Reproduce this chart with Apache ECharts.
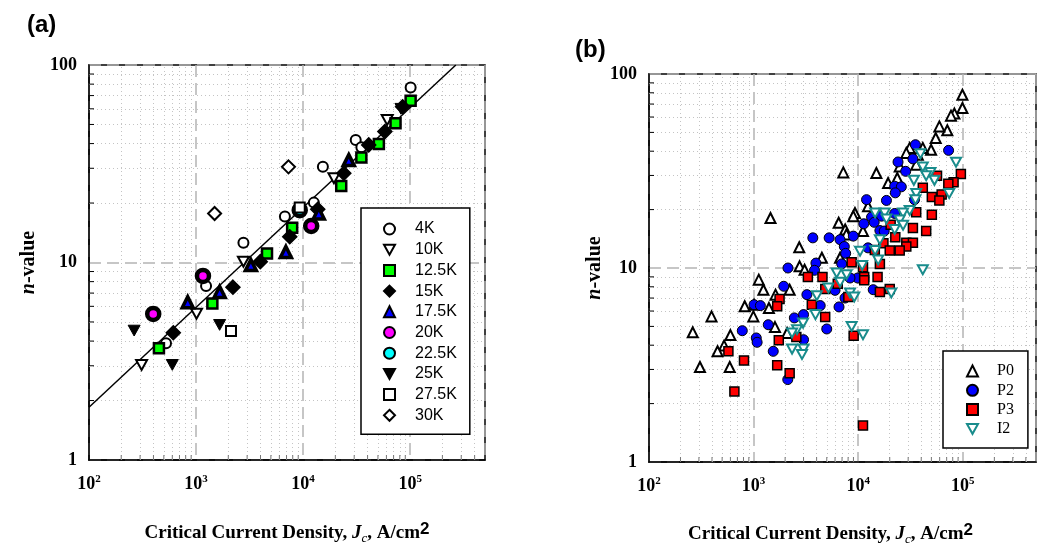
<!DOCTYPE html>
<html>
<head>
<meta charset="utf-8">
<script src="https://cdn.jsdelivr.net/npm/echarts/dist/echarts.min.js"></script>
<style>
html, body { margin: 0; padding: 0; background: #fff; }
#main { width: 1039px; height: 556px; }
</style>
</head>
<body>
<div id="main"></div>
<script>
// panel (a): n-value vs Jc, grouped by temperature
var k4    = [[1.01e5,77],[3.1e4,41.7],[3.5e4,38.3],[1.53e4,30.5],[1.26e4,20.1],[6.76e3,17.1],[2.77e3,12.6],[1.24e3,7.6],[524,3.9]];
var k10   = [[6.1e4,52.7],[1.94e4,26.7],[2.77e3,10.1],[1.01e3,5.5],[310,3.03]];
var k12_5 = [[1.01e5,66],[7.3e4,50.7],[5.1e4,39.8],[3.5e4,34],[2.27e4,24.4],[7.9e3,15],[4.6e3,11.1],[1.42e3,6.2],[450,3.68]];
var k15   = [[8.5e4,61.5],[5.8e4,46],[4.1e4,39.4],[2.4e4,28.3],[1.37e4,18.6],[7.5e3,13.5],[3.98e3,10.1],[2.21e3,7.5],[613,4.41]];
var k17_5 = [[2.67e4,33],[1.4e4,17.7],[6.9e3,11.3],[3.25e3,9.7],[1.66e3,7.1],[836,6.29]];
var k20   = [[1.19e4,15.3],[1.16e3,8.55],[398,5.49]];
var k22_5 = [[9.3e3,18.4]];
var k25   = [[8.2e4,60],[1.66e3,4.83],[600,3.03],[264,4.52]];
var k27_5 = [[9.3e3,19],[2.12e3,4.5]];
var k30   = [[7.3e3,30.5],[1.49e3,17.7]];
var fitLine = [[100,1.85],[2.67e5,100]];

// panel (b): by sample
var p0 = [[9.9e4,78.2],[9.9e4,66.8],[8.3e4,62.5],[7.7e4,61],[7.1e4,51.3],[5.96e4,53.7],[5.5e4,46.8],[4.97e4,40.7],[4.14e4,41.6],[3.71e4,38.4],[3.1e4,41.6],[2.88e4,39.2],[3.58e4,34.1],[2.49e4,33.4],[2.36e4,29.1],[1.93e4,27.4],[1.49e4,30.9],[7.2e3,31.1],[1.24e4,20.8],[9.3e3,19.2],[8.97e3,18.5],[1.11e4,15.5],[6.5e3,17.1],[7.5e3,15.8],[7.7e3,14.9],[1.45e3,18.1],[2.73e3,12.8],[6.7e3,11.3],[4.49e3,11.3],[2.75e3,10.2],[3.07e3,9.8],[1.12e3,8.71],[1.24e3,7.73],[2.21e3,7.73],[1.62e3,7.29],[822,6.35],[1.01e3,6.47],[1.4e3,6.22],[396,5.63],[994,5.63],[1.6e3,4.96],[262,4.66],[600,4.51],[2.09e3,4.62],[522,3.98],[452,3.72],[307,3.09],[591,3.09]];
var p2 = [[7.3e4,40.4],[3.52e4,43.2],[2.4e4,35.2],[3.33e4,36.5],[2.84e4,31.5],[2.23e4,26.4],[2.58e4,26.2],[2.26e4,24.4],[1.86e4,22.3],[3.45e4,22.5],[1.2e4,22.5],[2.23e4,19.1],[1.67e4,18.5],[1.34e4,18.3],[1.42e4,17.2],[1.13e4,16.9],[1.61e4,15.6],[1.77e4,15.5],[8.97e3,14.6],[6.7e3,14],[5.27e3,14.3],[3.68e3,14.3],[7.36e3,12.9],[1.24e4,12.7],[7.58e3,11.9],[6.95e3,10.5],[3.94e3,10.6],[3.82e3,9.73],[2.13e3,10],[9.86e3,8.88],[8.34e3,8.88],[1.94e3,8.05],[1.39e4,7.73],[6.0e3,7.67],[3.23e3,7.29],[7.47e3,7.0],[1.01e3,6.47],[1.16e3,6.4],[4.33e3,6.4],[6.55e3,6.3],[2.45e3,5.53],[3.0e3,5.75],[1.38e3,5.1],[779,4.75],[5.0e3,4.85],[1.06e3,4.36],[1.08e3,4.14],[3.0e3,4.27],[1.54e3,3.72],[2.12e3,2.66]];
var p3 = [[9.57e4,30.5],[8.15e4,27.7],[7.26e4,27.2],[5.66e4,29.9],[4.14e4,25.9],[5.05e4,23.2],[6.27e4,23.9],[5.96e4,22.3],[5.05e4,18.8],[3.58e4,19.4],[3.33e4,16.1],[4.46e4,15.5],[2.04e4,16.7],[1.74e4,13.4],[2.26e4,14.4],[2.88e4,13.5],[3.33e4,13.5],[2.88e4,12.9],[2.0e4,12.3],[2.49e4,12.3],[1.44e4,12.4],[1.61e4,10.5],[1.11e4,10.1],[8.65e3,10.7],[1.14e4,8.99],[1.14e4,8.64],[1.53e4,8.99],[3.3e3,8.99],[4.55e3,8.99],[4.84e3,7.79],[6.37e3,8.3],[2.0e4,7.79],[1.61e4,7.52],[8.04e3,7.09],[3.6e3,6.47],[1.77e3,6.92],[1.68e3,6.35],[4.83e3,5.59],[1.74e3,4.24],[2.56e3,4.41],[9.04e3,4.48],[574,3.72],[809,3.34],[1.68e3,3.15],[2.21e3,2.87],[655,2.31],[1.11e4,1.54]];
var i2 = [[8.6e4,35.1],[3.93e4,38.8],[4.14e4,33.2],[4.9e4,31.1],[4.46e4,29.9],[5.35e4,28.3],[3.4e4,28.3],[3.58e4,24.2],[7.4e4,24.2],[3.52e4,22.5],[3.1e4,19.8],[2.68e4,19.2],[2.49e4,17.7],[2.68e4,16.6],[2.23e4,15.8],[1.79e4,19.2],[1.86e4,17.9],[1.45e4,19.2],[1.61e4,14],[1.45e4,12.3],[1.55e4,11.0],[1.04e4,12.2],[1.09e4,10.3],[6.22e3,9.43],[7.74e3,9.24],[6.7e3,8.44],[5.19e3,7.89],[8.34e3,7.43],[9.16e3,7.09],[4.02e3,7.2],[2.07e4,7.43],[4.14e4,9.8],[3.9e3,5.75],[2.97e3,5.2],[2.6e3,4.81],[2.33e3,4.62],[8.65e3,5.0],[1.11e4,4.53],[2.33e3,3.82],[3.0e3,3.82],[2.9e3,3.58]];

var xMin = 100, xMax = 5e5, yMin = 1, yMax = 100;

var chart = echarts.init(document.getElementById('main'));

var downTri = 'path://M0,0L10,0L5,9Z';

// minor positions (2..9 in each decade) for dotted grid and small ticks
var xMinor = [], yMinor = [];
for (var d = 100; d < xMax; d *= 10) {
    for (var m = 2; m <= 9; m++) {
        if (d * m < xMax) xMinor.push(d * m);
    }
}
for (var e = 1; e < yMax; e *= 10) {
    for (var m2 = 2; m2 <= 9; m2++) yMinor.push(e * m2);
}
var minorLines = xMinor.map(function (v) { return {xAxis: v}; })
    .concat(yMinor.map(function (v) { return {yAxis: v}; }));
// [x, y, 0 = tick on bottom axis / 1 = tick on left axis]
var minorTicks = xMinor.map(function (v) { return [v, yMin, 0]; })
    .concat(yMinor.map(function (v) { return [xMin, v, 1]; }));

var serif = 'Liberation Serif';

function xLabel(v) {
    var p = Math.log10(v);
    if (Math.abs(p - Math.round(p)) > 1e-6) return '';
    return '{b|10}{s|' + Math.round(p) + '}';
}
function yLabel(v) {
    var p = Math.log10(v);
    if (Math.abs(p - Math.round(p)) > 1e-6) return '';
    return String(Math.round(v));
}

function xAxisCfg(idx, gap, pad) {
    return {
        type: 'log', logBase: 10, min: xMin, max: xMax, gridIndex: idx,
        axisLine: {show: true, lineStyle: {color: '#000', width: 1.5}},
        axisTick: {show: false},
        axisLabel: {
            formatter: xLabel, margin: 14,
            rich: {
                b: {fontFamily: serif, fontWeight: 'bold', fontSize: 18, color: '#000', lineHeight: 20},
                s: {fontFamily: serif, fontWeight: 'bold', fontSize: 11, color: '#000', lineHeight: 11, verticalAlign: 'top'}
            }
        },
        splitLine: {show: true, lineStyle: {color: '#b4b4b4', type: [12, 6], width: 1.5}},
        name: '{t|Critical Current Density, }{i|J}{c|c}{t|, A/cm}{p|2}',
        nameLocation: 'middle', nameGap: gap,
        nameTextStyle: {
            padding: pad,
            rich: {
                t: {fontFamily: serif, fontWeight: 'bold', fontSize: 19, color: '#000', lineHeight: 24},
                i: {fontFamily: serif, fontWeight: 'bold', fontStyle: 'italic', fontSize: 19, color: '#000', lineHeight: 24},
                c: {fontFamily: serif, fontStyle: 'italic', fontSize: 13, color: '#000', lineHeight: 14, verticalAlign: 'bottom'},
                p: {fontFamily: 'Liberation Sans', fontWeight: 'bold', fontSize: 17, color: '#000', lineHeight: 14, verticalAlign: 'top'}
            }
        }
    };
}

function yAxisCfg(idx, gap) {
    return {
        type: 'log', logBase: 10, min: yMin, max: yMax, gridIndex: idx,
        axisLine: {show: true, lineStyle: {color: '#000', width: 1.5}},
        axisTick: {show: false},
        axisLabel: {formatter: yLabel, margin: 12, fontFamily: serif, fontWeight: 'bold', fontSize: 18, color: '#000'},
        splitLine: {show: true, lineStyle: {color: '#b4b4b4', type: [12, 6], width: 1.5}},
        name: '{i|n}{t|-value}',
        nameLocation: 'middle', nameGap: gap, nameRotate: 90,
        nameTextStyle: {
            rich: {
                i: {fontFamily: serif, fontWeight: 'bold', fontStyle: 'italic', fontSize: 20, color: '#000'},
                t: {fontFamily: serif, fontWeight: 'bold', fontSize: 20, color: '#000'}
            }
        }
    };
}

function gridLinesSeries(idx) {
    return {
        name: 'grid' + idx, type: 'scatter', xAxisIndex: idx, yAxisIndex: idx, data: [], z: 1,
        markLine: {
            silent: true, symbol: 'none', animation: false, z: 1,
            label: {show: false},
            lineStyle: {color: '#c4c4c4', type: [1, 3], width: 1},
            data: minorLines
        }
    };
}

function tickSeries(idx) {
    return {
        name: 'ticks' + idx, type: 'custom', xAxisIndex: idx, yAxisIndex: idx,
        data: minorTicks, z: 4, silent: true, clip: false,
        renderItem: function (params, api) {
            var p = api.coord([api.value(0), api.value(1)]);
            var onLeft = api.value(2) === 1;
            return {
                type: 'line',
                shape: onLeft ? {x1: p[0], y1: p[1], x2: p[0] + 5, y2: p[1]}
                              : {x1: p[0], y1: p[1], x2: p[0], y2: p[1] - 5},
                style: {stroke: onLeft ? '#000' : '#777', lineWidth: 1}
            };
        }
    };
}

function sc(name, data, idx, symbol, size, fill, border, bw) {
    return {
        name: name, type: 'scatter', xAxisIndex: idx, yAxisIndex: idx, data: data,
        symbol: symbol, symbolSize: size, symbolKeepAspect: true, z: 3,
        itemStyle: {color: fill, borderColor: border, borderWidth: bw, opacity: 1}
    };
}

var namesA = ['4K', '10K', '12.5K', '15K', '17.5K', '20K', '22.5K', '25K', '27.5K', '30K'];
var namesB = ['P0', 'P2', 'P3', 'I2'];

function legendItems(names) {
    return names.map(function (n) {
        return (n === '10K' || n === '25K' || n === 'I2') ? {name: n, icon: downTri} : {name: n};
    });
}

var option = {
    animation: false,
    backgroundColor: '#fff',
    title: [
        {text: '(a)', left: 22, top: 8, textStyle: {fontFamily: 'Liberation Sans', fontWeight: 'bold', fontSize: 24, color: '#000'}},
        {text: '(b)', left: 570, top: 33, textStyle: {fontFamily: 'Liberation Sans', fontWeight: 'bold', fontSize: 24, color: '#000'}}
    ],
    grid: [
        {left: 89, top: 65, width: 396, height: 395, show: true, borderColor: '#000', borderWidth: 1.5, backgroundColor: 'transparent'},
        {left: 649, top: 74, width: 388, height: 388, show: true, borderColor: '#000', borderWidth: 1.5, backgroundColor: 'transparent'}
    ],
    xAxis: [xAxisCfg(0, 61, [0, 0, 0, 0]), xAxisCfg(1, 60, [0, 24, 0, 0])],
    yAxis: [yAxisCfg(0, 50), yAxisCfg(1, 44)],
    legend: [
        {
            data: legendItems(namesA), orient: 'vertical', left: 361, top: 208,
            itemWidth: 11, itemHeight: 11, itemGap: 4.7,
            padding: [13, 13, 11, 22],
            borderColor: '#000', borderWidth: 1.5, backgroundColor: '#fff',
            selectedMode: false,
            textStyle: {fontFamily: 'Liberation Sans', fontSize: 16, color: '#000', padding: [0, 0, 0, 15]}
        },
        {
            data: legendItems(namesB), orient: 'vertical', left: 943, top: 351,
            itemWidth: 11, itemHeight: 11, itemGap: 3.3,
            padding: [12, 14, 11, 23],
            borderColor: '#000', borderWidth: 1.5, backgroundColor: '#fff',
            selectedMode: false,
            textStyle: {fontFamily: serif, fontSize: 16, color: '#000', padding: [0, 0, 0, 14]}
        }
    ],
    series: [
        gridLinesSeries(0),
        gridLinesSeries(1),
        tickSeries(0),
        tickSeries(1),
        {
            name: 'fit', type: 'line', xAxisIndex: 0, yAxisIndex: 0, data: fitLine,
            showSymbol: false, z: 2, lineStyle: {color: '#000', width: 1.5}
        },
        sc('4K', k4, 0, 'circle', 10, '#fff', '#000', 2),
        sc('10K', k10, 0, downTri, 11, '#fff', '#000', 2),
        sc('12.5K', k12_5, 0, 'rect', 10, '#00ff00', '#000', 2.5),
        sc('15K', k15, 0, 'diamond', 14, '#000', '#000', 1.5),
        sc('17.5K', k17_5, 0, 'triangle', 11, '#0000ff', '#000', 3.5),
        sc('20K', k20, 0, 'circle', 12, '#ff00ff', '#000', 4.5),
        sc('22.5K', k22_5, 0, 'circle', 12, '#00ffff', '#000', 4.5),
        sc('25K', k25, 0, downTri, 12, '#000', '#000', 1),
        sc('27.5K', k27_5, 0, 'rect', 10, '#fff', '#000', 2),
        sc('30K', k30, 0, 'diamond', 13, '#fff', '#000', 2),
        sc('P0', p0, 1, 'triangle', 10, '#fff', '#000', 2),
        sc('P2', p2, 1, 'circle', 10, '#0000ff', '#000', 1),
        sc('P3', p3, 1, 'rect', 9, '#ff0000', '#000', 1.5),
        sc('I2', i2, 1, downTri, 10, '#fff', '#198c8c', 2)
    ]
};

chart.setOption(option);
</script>
</body>
</html>
